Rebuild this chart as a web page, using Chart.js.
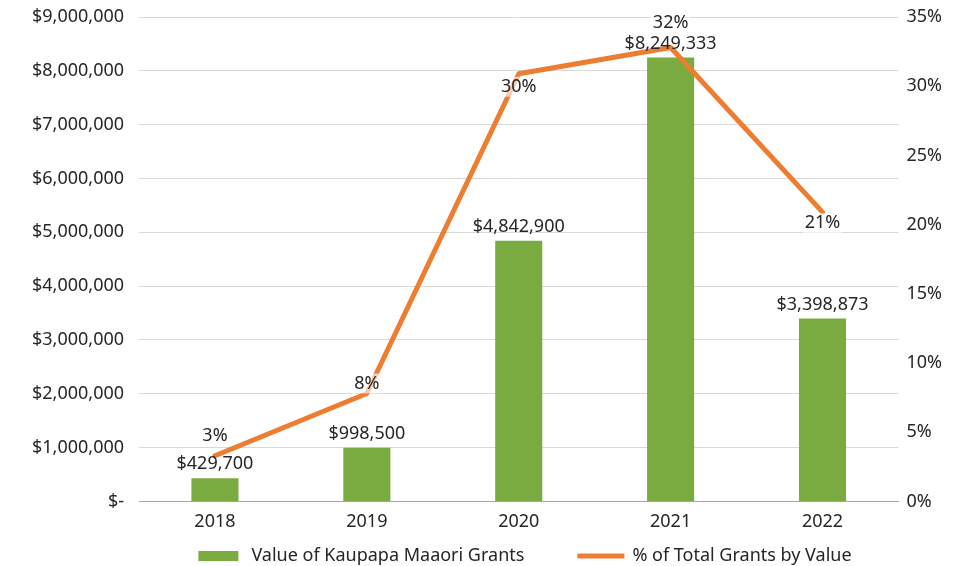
<!DOCTYPE html>
<html>
<head>
<meta charset="utf-8">
<script src="https://cdn.jsdelivr.net/npm/chart.js@4/dist/chart.umd.min.js"></script>
<style>
    html, body { margin: 0; padding: 0; background: #fff; }
    #wrap { width: 964px; height: 566px; }
</style>
</head>
<body>
<div id="wrap"><canvas id="chart" width="964" height="566"></canvas></div>
<script>
// Chart data
const years = ["2018", "2019", "2020", "2021", "2022"];
const grantValues = [429700, 998500, 4842900, 8249333, 3398873];
const percentOfTotal = [3.3, 7.8, 30.9, 32.8, 20.9];
const percentLabels = ["3%", "8%", "30%", "32%", "21%"];

const FONT = "'Noto Sans', sans-serif";
const SIZE = 18;
const TEXT = "#262626";

function money(v) {
    if (v === 0) return "$-";
    return "$" + v.toLocaleString("en-US");
}

// Draws the value labels over the bars and the line
const valueLabels = {
    id: "valueLabels",
    afterDatasetsDraw(chart, args, opts) {
        const ctx = chart.ctx;
        ctx.save();
        ctx.font = SIZE + "px " + FONT;
        ctx.textAlign = "center";
        ctx.textBaseline = "middle";

        // bar labels
        chart.getDatasetMeta(0).data.forEach((bar, i) => {
            ctx.fillStyle = TEXT;
            ctx.fillText(money(grantValues[i]), bar.x, bar.y - 14);
        });

        // line labels, with a light see-through box behind them
        chart.getDatasetMeta(1).data.forEach((pt, i) => {
            const txt = percentLabels[i];
            const y = pt.y + opts.lineOffsets[i];
            const w = ctx.measureText(txt).width;
            ctx.fillStyle = "rgba(255,255,255,0.6)";
            ctx.fillRect(pt.x - w / 2 - 2, y - 10, w + 4, 20);
            ctx.fillStyle = TEXT;
            ctx.fillText(txt, pt.x, y);
        });
        ctx.restore();
    }
};

// Legend at the bottom: a green block for the bars, a short thick line for the line
const bottomLegend = {
    id: "bottomLegend",
    afterDraw(chart, args, opts) {
        const ctx = chart.ctx;
        const ds = chart.data.datasets;
        ctx.save();
        ctx.font = SIZE + "px " + FONT;
        ctx.textBaseline = "middle";
        const w0 = ctx.measureText(ds[0].label).width;
        const w1 = ctx.measureText(ds[1].label).width;
        const total = 40 + 13 + w0 + 53 + 47 + 8 + w1;
        let x = opts.centerX - total / 2;
        const y = opts.y;

        ctx.fillStyle = ds[0].backgroundColor;
        ctx.fillRect(x, y - 5, 40, 10);
        x += 53;
        ctx.fillStyle = TEXT;
        ctx.fillText(ds[0].label, x, y);
        x += w0 + 53;

        ctx.strokeStyle = ds[1].borderColor;
        ctx.lineWidth = 5;
        ctx.beginPath();
        ctx.moveTo(x, y);
        ctx.lineTo(x + 47, y);
        ctx.stroke();
        x += 55;
        ctx.fillText(ds[1].label, x, y);
        ctx.restore();
    }
};

// let the top gridline sit right at the layout padding
function noVerticalPad(scale) {
    scale.paddingTop = 0;
    scale.paddingBottom = 0;
}

const ctx = document.querySelector("#chart").getContext("2d");

const chart = new Chart(ctx, {
    type: "bar",
    data: {
        labels: years,
        datasets: [{
            type: "bar",
            label: "Value of Kaupapa Maaori Grants",
            data: grantValues,
            backgroundColor: "#7aab41",
            borderWidth: 0,
            yAxisID: "y",
            barPercentage: 0.31,
            categoryPercentage: 1,
            order: 2
        }, {
            type: "line",
            label: "% of Total Grants by Value",
            data: percentOfTotal,
            borderColor: "#ed7d31",
            backgroundColor: "#ed7d31",
            borderWidth: 5,
            pointRadius: 0,
            tension: 0,
            borderJoinStyle: "round",
            borderCapStyle: "round",
            yAxisID: "y1",
            order: 1
        }]
    },
    options: {
        responsive: false,
        animation: false,
        layout: { padding: { top: 17, left: 17, right: 14, bottom: 31 } },
        scales: {
            x: {
                grid: { display: false },
                border: { color: "#a6a6a6", width: 1 },
                ticks: { color: TEXT, font: { family: FONT, size: SIZE }, padding: 2 }
            },
            y: {
                position: "left",
                min: 0,
                max: 9000000,
                afterFit: noVerticalPad,
                ticks: {
                    stepSize: 1000000,
                    color: TEXT,
                    font: { family: FONT, size: SIZE },
                    padding: 15,
                    callback: v => money(v)
                },
                grid: { color: "#d9d9d9", drawTicks: false },
                border: { display: false }
            },
            y1: {
                position: "right",
                min: 0,
                max: 35,
                afterFit: noVerticalPad,
                ticks: {
                    stepSize: 5,
                    color: TEXT,
                    font: { family: FONT, size: SIZE },
                    padding: 8,
                    callback: v => v + "%"
                },
                grid: { display: false, drawTicks: false },
                border: { display: false }
            }
        },
        plugins: {
            tooltip: { enabled: false },
            legend: { display: false },
            valueLabels: { lineOffsets: [-20, -10, 13, -25, 11] },
            bottomLegend: { centerX: 525, y: 556 }
        }
    },
    plugins: [valueLabels, bottomLegend]
});
</script>
</body>
</html>
